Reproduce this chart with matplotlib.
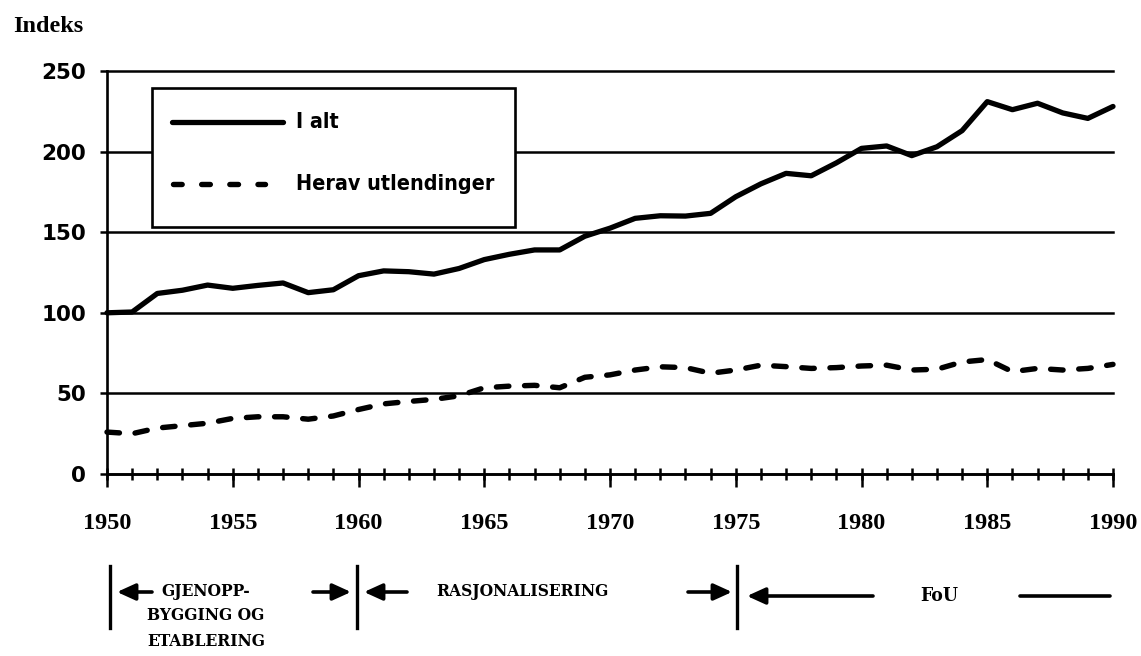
import os
import matplotlib
matplotlib.use("Agg")
import matplotlib.pyplot as plt
from matplotlib.lines import Line2D
from matplotlib.patches import Rectangle, FancyArrowPatch
from matplotlib import font_manager
from matplotlib.font_manager import FontProperties

# ---------------- data ----------------
years = list(range(1950, 1991))
i_alt = [100, 100.5, 112, 114, 117.2, 115.2, 117, 118.5, 112.5, 114.3,
         123, 126, 125.5, 124, 127.5, 133, 136.3, 139, 139, 147.5,
         152.5, 158.6, 160.2, 160, 161.7, 172, 180, 186.5, 185, 193,
         202, 203.5, 197.5, 203, 213, 231, 226, 230, 224, 220.6, 228]
herav = [26, 25, 28.5, 30, 31.5, 34.5, 35.5, 35.5, 34, 36,
         40, 43.5, 45, 46.3, 48.5, 53.5, 54.5, 55, 53.5, 60,
         61.5, 64.5, 66.5, 66, 62.5, 64.5, 67.5, 66.6, 65.5, 66,
         67, 67.5, 64.5, 65, 69.5, 71, 63.5, 65.5, 64.5, 65.5, 68]
y_ticks = [0, 50, 100, 150, 200, 250]
x_major = [1950, 1955, 1960, 1965, 1970, 1975, 1980, 1985, 1990]
legend_labels = ["I alt", "Herav utlendinger"]
y_title = "Indeks"
period_texts = ["GJENOPP-", "BYGGING OG", "ETABLERING", "RASJONALISERING", "FoU"]


# ---------------- fonts ----------------
def find_font(patterns):
    files = [f.fname for f in font_manager.fontManager.ttflist]
    for p in patterns:
        for fn in files:
            if os.path.basename(fn).lower() == p:
                return fn
    return None


leg_path = find_font(["liberationsansnarrow-bold.ttf", "dejavusanscondensed-bold.ttf",
                      "robotocondensed-bold.ttf"])
leg_fp = FontProperties(fname=leg_path) if leg_path else FontProperties(
    family="Liberation Sans", weight="bold")
ser_path = find_font(["dejavuserifcondensed-bold.ttf"])
ser_fp = FontProperties(fname=ser_path) if ser_path else FontProperties(
    family="Liberation Serif", weight="bold")
serif_b = FontProperties(family="Liberation Serif", weight="bold")

W, H = 1141, 656
fig = plt.figure(figsize=(W / 100, H / 100), dpi=100)
renderer = fig.canvas.get_renderer()


def fx(px):
    return px / W


def fy(py):
    return 1 - py / H


def fitted_size(s, fp, target_px):
    t = fig.text(0, 0, s, fontproperties=fp, fontsize=10)
    w = t.get_window_extent(renderer).width
    t.remove()
    return 10 * target_px / w


ax = fig.add_axes([fx(107), fy(474), fx(1113) - fx(107), fy(71) - fy(474)])
ax.set_xlim(1950, 1990)
ax.set_ylim(0, 250)

for s in ("top", "right"):
    ax.spines[s].set_visible(False)
for s in ("left", "bottom"):
    ax.spines[s].set_linewidth(1.9)

ax.set_yticks(y_ticks)
ax.set_yticklabels([str(v) for v in y_ticks], fontfamily="DejaVu Sans",
                   fontweight="bold", fontsize=15.5)
ax.tick_params(axis="y", direction="out", length=5, width=1.8, pad=10)
ax.yaxis.grid(True, color="black", linewidth=1.8)
for gl in ax.get_ygridlines():
    gl.set_clip_on(False)

ax.set_xticks(x_major)
ax.set_xticklabels([str(v) for v in x_major], fontproperties=serif_b, fontsize=17.5)
ax.set_xticks(years, minor=True)
ax.xaxis.remove_overlapping_locs = False
ax.tick_params(axis="x", which="major", direction="out", length=9, width=1.8, pad=19)
ax.tick_params(axis="x", which="minor", direction="inout", length=9, width=1.8)

ax.plot(years, i_alt, color="black", lw=3.8, solid_joinstyle="round",
        solid_capstyle="round", clip_on=False, zorder=3)
ax.plot(years, herav, color="black", lw=3.9, linestyle=(0, (2.3, 2.9)),
        dash_capstyle="round", dash_joinstyle="round", clip_on=False, zorder=3)

# ---------------- legend ----------------
fig.add_artist(Rectangle((fx(152), fy(227)), fx(515) - fx(152), fy(88) - fy(227),
                         transform=fig.transFigure, facecolor="white",
                         edgecolor="black", linewidth=1.9, zorder=5))
fig.add_artist(Line2D([fx(172), fx(283)], [fy(121.7), fy(121.7)],
                      transform=fig.transFigure, color="black", lw=3.8,
                      solid_capstyle="round", zorder=6))
fig.add_artist(Line2D([fx(173), fx(265)], [fy(184), fy(184)],
                      transform=fig.transFigure, color="black", lw=3.9,
                      linestyle=(0, (1.6, 3.6)), dash_capstyle="round", zorder=6))
leg_size = fitted_size(legend_labels[1], leg_fp, 196)
fig.text(fx(296), fy(122), legend_labels[0], ha="left", va="center",
         fontproperties=leg_fp, fontsize=leg_size, zorder=7)
fig.text(fx(296), fy(184), legend_labels[1], ha="left", va="center",
         fontproperties=leg_fp, fontsize=leg_size, zorder=7)

# ---------------- y title ----------------
fig.text(fx(13), fy(27), y_title, ha="left", va="center", fontproperties=serif_b,
         fontsize=17.5)

# ---------------- periods ----------------
for bx in (110, 357, 737):
    fig.add_artist(Line2D([fx(bx), fx(bx)], [fy(566), fy(628)],
                          transform=fig.transFigure, color="black", lw=2.4))


def arrow(x0, x1, y, head=True):
    style = "-|>,head_length=1.1,head_width=0.5" if head else "-"
    fig.add_artist(FancyArrowPatch((fx(x0), fy(y)), (fx(x1), fy(y)),
                                   transform=fig.transFigure, arrowstyle=style,
                                   mutation_scale=10, lw=2.6, color="black",
                                   shrinkA=0, shrinkB=0))


arrow(152, 117, 592)
arrow(313, 351, 592)
arrow(407, 364, 592)
arrow(688, 732, 592)
arrow(873, 747, 596)
arrow(1020, 1110, 596, head=False)

ann_size = min(fitted_size(period_texts[3], ser_fp, 172), 16)
fou_size = ann_size * 1.12
tk = dict(ha="center", va="center", fontproperties=ser_fp, fontsize=ann_size)
fig.text(fx(206), fy(592), period_texts[0], **tk)
fig.text(fx(206), fy(616), period_texts[1], **tk)
fig.text(fx(206), fy(641), period_texts[2], **tk)
fig.text(fx(522), fy(592), period_texts[3], **tk)
fig.text(fx(939), fy(596), period_texts[4], ha="center", va="center",
         fontproperties=ser_fp, fontsize=fou_size)

fig.savefig("out.png", dpi=100)
